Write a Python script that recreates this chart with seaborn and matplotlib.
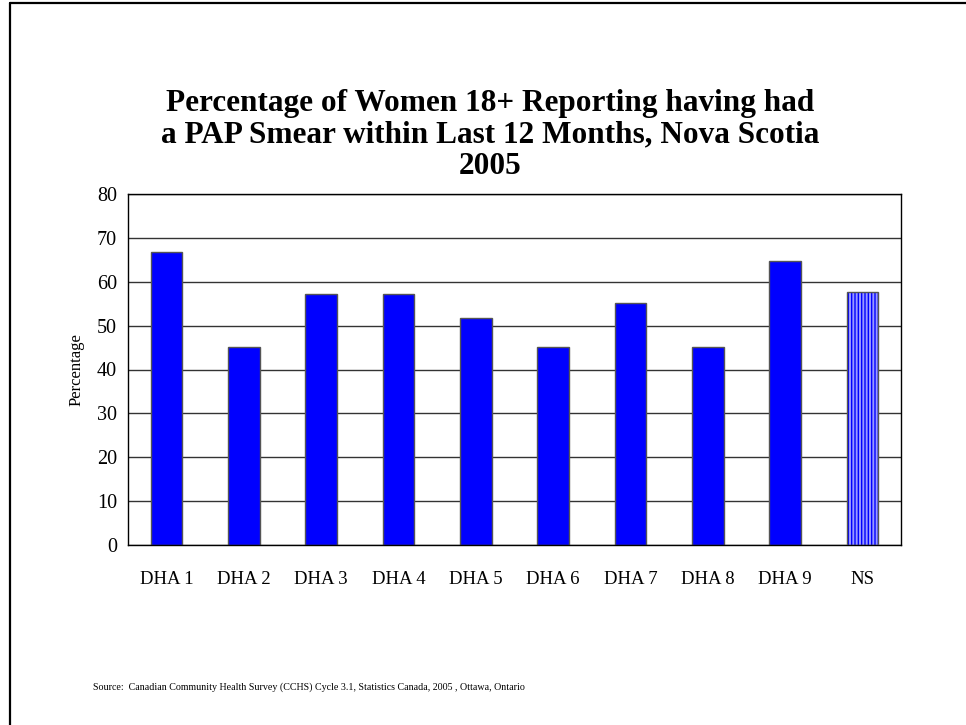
import matplotlib
matplotlib.use("Agg")
import matplotlib.pyplot as plt
from matplotlib.patches import Rectangle
import seaborn as sns
import pandas as pd

# Data
regions = ["DHA 1", "DHA 2", "DHA 3", "DHA 4", "DHA 5", "DHA 6", "DHA 7", "DHA 8", "DHA 9", "NS"]
percentages = [66.8, 45.1, 57.2, 57.2, 51.7, 45.1, 55.2, 45.1, 64.8, 57.7]
y_ticks = [0, 10, 20, 30, 40, 50, 60, 70, 80]

title = ("Percentage of Women 18+ Reporting having had\n"
         "a PAP Smear within Last 12 Months, Nova Scotia\n2005")
source = ("Source:  Canadian Community Health Survey (CCHS) Cycle 3.1, "
          "Statistics Canada, 2005 , Ottawa, Ontario")

sns.set_style("white")
plt.rcParams["font.family"] = ["Liberation Serif", "DejaVu Serif"]
plt.rcParams["hatch.linewidth"] = 1.0

df = pd.DataFrame({"region": regions, "pct": percentages})

fig = plt.figure(figsize=(9.66, 7.25), dpi=100)
W, H = 966, 725
ax = fig.add_axes([128 / W, 1 - 545 / H, (901 - 128) / W, (545 - 194) / H])

sns.barplot(data=df, x="region", y="pct", ax=ax, color="#0000ff",
            width=0.41, edgecolor="#555555", linewidth=1.0, saturation=1)

# Provincial total bar: light fill with vertical blue hatching
ns_bar = ax.patches[len(regions) - 1]
ns_bar.set_facecolor("#9a9aff")
ns_bar.set_edgecolor("#0000ff")
ns_bar.set_hatch("|||||")
ns_bar.set_linewidth(0)
x0, y0 = ns_bar.get_xy()
ax.add_patch(Rectangle((x0, y0), ns_bar.get_width(), ns_bar.get_height(),
                       fill=False, edgecolor="#555555", linewidth=1.0, zorder=3))

ax.set_ylim(0, 80)
ax.set_yticks(y_ticks)
ax.set_xlim(-0.5, len(regions) - 0.5)
ax.yaxis.grid(True, color="#333333", linewidth=1.0)
ax.set_axisbelow(True)
for s in ax.spines.values():
    s.set_visible(True)
    s.set_color("black")
    s.set_linewidth(1.0)

ax.tick_params(axis="y", length=0, labelsize=14.5, colors="black", pad=8)
ax.tick_params(axis="x", length=0, labelsize=13.5, colors="black", pad=19)
ax.set_xlabel("")
ax.set_ylabel("Percentage", fontsize=12, labelpad=9, color="black")

fig.text(490 / W, 1 - 135 / H, title, ha="center", va="center",
         fontsize=22.5, fontweight="bold", linespacing=1.12, color="black")
fig.text(93 / W, 1 - 687 / H, source, ha="left", va="center", fontsize=7.2,
         color="black")

# Page frame lines (left and top)
fig.add_artist(plt.Line2D([10 / W, 10 / W], [0, 1 - 3 / H], color="black",
                          linewidth=1.6, transform=fig.transFigure))
fig.add_artist(plt.Line2D([10 / W, 1], [1 - 3 / H, 1 - 3 / H], color="black",
                          linewidth=1.6, transform=fig.transFigure))

fig.savefig("out.png", dpi=100)
